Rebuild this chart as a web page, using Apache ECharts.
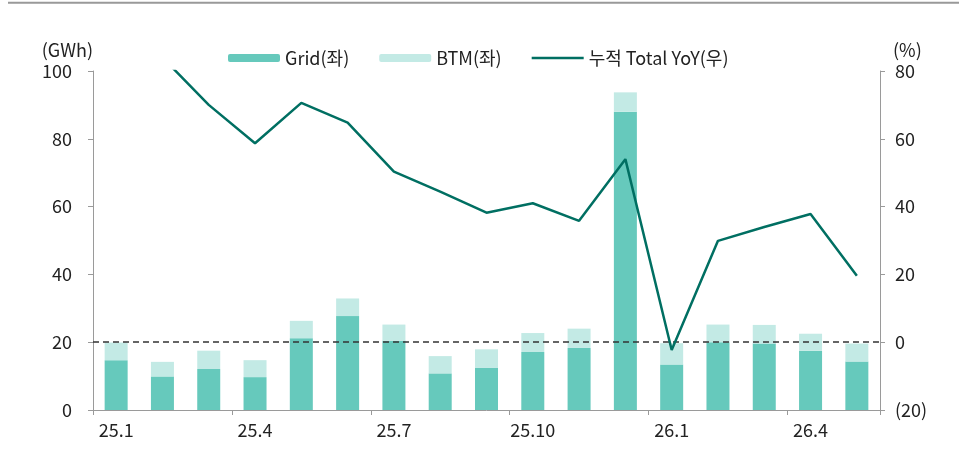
<!DOCTYPE html>
<html>
<head>
<meta charset="utf-8">
<script src="https://cdn.jsdelivr.net/npm/echarts@6/dist/echarts.min.js"></script>
<style>
html,body{margin:0;padding:0;background:#fff;}
#chart{width:959px;height:454px;}
</style>
</head>
<body>
<div id="chart"></div>
<script>
const categories = ['25.1','25.2','25.3','25.4','25.5','25.6','25.7','25.8','25.9','25.10','25.11','25.12','26.1','26.2','26.3','26.4','26.5'];
const gridValues = [14.7, 9.9, 12.1, 9.7, 21.2, 27.7, 20.4, 10.8, 12.4, 17.1, 18.3, 88.0, 13.4, 20.0, 19.6, 17.5, 14.3];
const btmValues  = [5.2, 4.3, 5.4, 5.0, 5.1, 5.2, 4.8, 5.1, 5.5, 5.6, 5.7, 5.7, 6.3, 5.2, 5.5, 5.0, 5.3];
const yoyValues  = [null, 84, 70, 58.7, 70.6, 64.8, 50.3, 44.4, 38.2, 41, 35.8, 54, -2.3, 29.9, 34, 37.8, 19.6];
const leftTicks = {min: 0, max: 100, interval: 20};
const rightTicks = {min: -20, max: 80, interval: 20};

const FONT = '"Noto Sans CJK KR", "Noto Sans", sans-serif';
const TXT = '#222';
const AX = '#9a9a9a';

const chart = echarts.init(document.getElementById('chart'), null, {renderer: 'canvas'});
chart.setOption({
  animation: false,
  textStyle: {fontFamily: FONT, color: TXT},
  graphic: [{
    type: 'line', shape: {x1: 8, y1: 2.7, x2: 959, y2: 2.7},
    style: {stroke: '#999', lineWidth: 2}
  }],
  legend: {
    left: 223, top: 44, itemWidth: 52, itemHeight: 8, itemGap: 30,
    textStyle: {fontFamily: FONT, fontSize: 18, color: TXT},
    data: [
      {name: 'Grid(좌)'},
      {name: 'BTM(좌)'},
      {name: '누적 Total YoY(우)', icon: 'path://M0,0 L52,0 L52,2.6 L0,2.6 Z'}
    ]
  },
  grid: {left: 93, right: 79, top: 71, bottom: 44, containLabel: false},
  xAxis: {
    type: 'category', data: categories, boundaryGap: true,
    axisLine: {lineStyle: {color: AX, width: 1}},
    axisTick: {show: true, interval: 2, length: 5, lineStyle: {color: AX}},
    axisLabel: {interval: 2, fontSize: 18, color: TXT, margin: 11, fontFamily: FONT}
  },
  yAxis: [{
    type: 'value', min: leftTicks.min, max: leftTicks.max, interval: leftTicks.interval,
    name: '(GWh)', nameLocation: 'end', nameGap: 12,
    nameTextStyle: {fontSize: 18, color: TXT, align: 'right', fontFamily: FONT},
    axisLine: {show: true, lineStyle: {color: AX}},
    axisTick: {show: true, length: 5, lineStyle: {color: AX}},
    axisLabel: {fontSize: 18, color: TXT, margin: 21, fontFamily: FONT},
    splitLine: {show: false}
  }, {
    type: 'value', min: rightTicks.min, max: rightTicks.max, interval: rightTicks.interval,
    position: 'right',
    name: '(%)', nameLocation: 'end', nameGap: 12,
    nameTextStyle: {fontSize: 18, color: TXT, align: 'left', fontFamily: FONT, padding: [0, 0, 0, 13]},
    axisLine: {show: true, lineStyle: {color: AX}},
    axisTick: {show: true, length: 5, lineStyle: {color: AX}},
    axisLabel: {fontSize: 18, color: TXT, margin: 15, fontFamily: FONT,
      formatter: v => v < 0 ? '(' + Math.abs(v) + ')' : String(v)},
    splitLine: {show: false}
  }],
  series: [{
    name: 'Grid(좌)', type: 'bar', stack: 'total', data: gridValues, barWidth: 23,
    itemStyle: {color: '#66c9bc'}, yAxisIndex: 0
  }, {
    name: 'BTM(좌)', type: 'bar', stack: 'total', data: btmValues, barWidth: 23,
    itemStyle: {color: '#c3eae5'}, yAxisIndex: 0
  }, {
    name: '누적 Total YoY(우)', type: 'line', data: yoyValues, yAxisIndex: 1,
    symbol: 'none', showSymbol: false, connectNulls: false,
    lineStyle: {color: '#006f62', width: 2.5}, itemStyle: {color: '#006f62'},
    clip: true, z: 5,
    markLine: {
      silent: true, symbol: ['none', 'none'], label: {show: false},
      lineStyle: {color: '#333', type: [6, 4], width: 1.5},
      data: [{yAxis: 0}]
    }
  }]
});
</script>
</body>
</html>
